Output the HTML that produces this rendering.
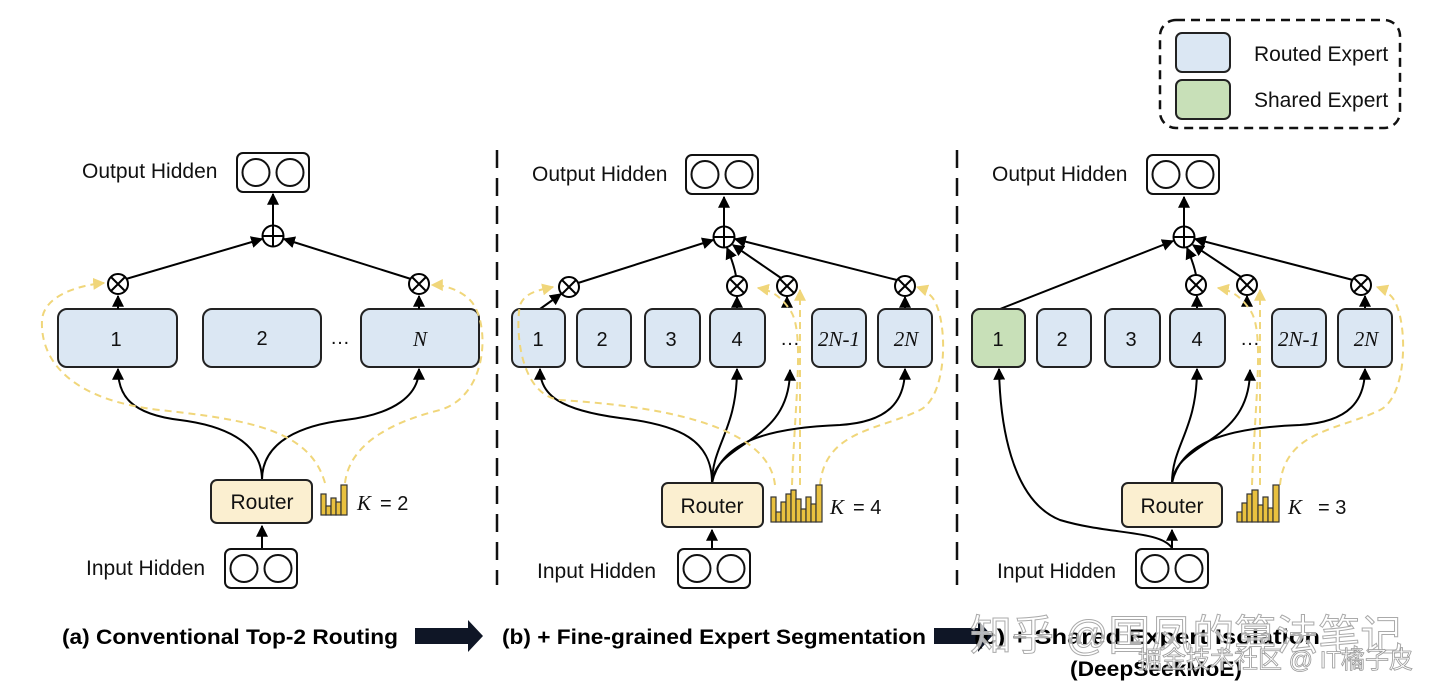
<!DOCTYPE html>
<html><head><meta charset="utf-8"><style>
html,body{margin:0;padding:0;background:#fff}
svg{display:block}
text{font-family:"Liberation Sans","DejaVu Sans",sans-serif}
.lbl{font-size:21px;fill:#111}
.num{font-size:20px;fill:#111}
.it{font-family:"Liberation Serif",serif;font-style:italic;font-size:21px;fill:#111}
.cap{font-size:21px;font-weight:bold;fill:#000}
.ex{fill:#dbe7f3;stroke:#222;stroke-width:2}
.rt{fill:#fbefd0;stroke:#222;stroke-width:2}
.bk{fill:none;stroke:#000;stroke-width:2}
.ds{fill:none;stroke:#f0d67a;stroke-width:2;stroke-dasharray:7 5}
.bar{fill:#e9c13f;stroke:#333;stroke-width:1.2}
</style></head><body>
<svg width="1440" height="692" viewBox="0 0 1440 692" xmlns="http://www.w3.org/2000/svg">
<defs>
<marker id="a" viewBox="0 0 10 10" refX="9" refY="5" markerWidth="6" markerHeight="6" orient="auto"><path d="M0,0L10,5L0,10z" fill="#000"/></marker>
<marker id="y" viewBox="0 0 10 10" refX="9" refY="5" markerWidth="6" markerHeight="6" orient="auto"><path d="M0,0L10,5L0,10z" fill="#f0d67a"/></marker>
<g id="hid"><rect x="0" y="0" width="72" height="39" rx="6" fill="#fff" stroke="#111" stroke-width="2"/><circle cx="19" cy="19.5" r="13.5" fill="#fff" stroke="#111" stroke-width="2"/><circle cx="53" cy="19.5" r="13.5" fill="#fff" stroke="#111" stroke-width="2"/></g>
<g id="plus"><circle r="10.5" fill="#fff" stroke="#000" stroke-width="2"/><path d="M-10.5,0H10.5M0,-10.5V10.5" stroke="#000" stroke-width="2"/></g>
<g id="mul"><circle r="10" fill="#fff" stroke="#000" stroke-width="2"/><path d="M-7,-7L7,7M7,-7L-7,7" stroke="#000" stroke-width="2"/></g>
</defs>

<!-- Legend -->
<rect x="1160" y="20" width="240" height="108" rx="16" fill="none" stroke="#111" stroke-width="2.5" stroke-dasharray="9 6"/>
<rect x="1176" y="33" width="54" height="39" rx="6" class="ex"/>
<rect x="1176" y="80" width="54" height="39" rx="6" fill="#c8e0b8" stroke="#222" stroke-width="2"/>
<text x="1254" y="61" class="lbl">Routed Expert</text>
<text x="1254" y="107" class="lbl">Shared Expert</text>

<!-- dividers -->
<line x1="497" y1="150" x2="497" y2="585" stroke="#111" stroke-width="2.5" stroke-dasharray="18 10"/>
<line x1="957" y1="150" x2="957" y2="585" stroke="#111" stroke-width="2.5" stroke-dasharray="18 10"/>

<!-- ===== Panel A ===== -->
<text x="82" y="178" class="lbl">Output Hidden</text>
<use href="#hid" x="237" y="153"/>
<line x1="273" y1="226" x2="273" y2="194" class="bk" marker-end="url(#a)"/>
<path d="M126,279L262,239" class="bk" marker-end="url(#a)"/>
<path d="M411,279L284,239" class="bk" marker-end="url(#a)"/>
<rect x="58" y="309" width="119" height="58" rx="9" class="ex"/>
<rect x="203" y="309" width="118" height="58" rx="9" class="ex"/>
<rect x="361" y="309" width="118" height="58" rx="9" class="ex"/>
<text x="116" y="346" class="num" text-anchor="middle">1</text>
<text x="262" y="345" class="num" text-anchor="middle">2</text>
<text x="340" y="344" class="num" text-anchor="middle">…</text>
<text x="420" y="346" class="it" text-anchor="middle">N</text>
<line x1="118" y1="309" x2="118" y2="296" class="bk" marker-end="url(#a)"/>
<line x1="419" y1="309" x2="419" y2="296" class="bk" marker-end="url(#a)"/>
<path d="M262,480C262,440 220,425 180,420C130,414 118,395 118,369" class="bk" marker-end="url(#a)"/>
<path d="M262,480C262,440 304,425 345,420C395,414 419,395 419,369" class="bk" marker-end="url(#a)"/>
<path d="M325,483C310,430 250,420 160,410C70,400 40,360 42,320C44,295 80,285 104,283" class="ds" marker-end="url(#y)"/>
<path d="M345,483C350,440 400,420 440,410C490,395 490,320 470,300C460,290 445,285 432,285" class="ds" marker-end="url(#y)"/>
<use href="#mul" x="118" y="284"/><use href="#mul" x="419" y="284"/>
<use href="#plus" x="273" y="236"/>
<rect x="211" y="480" width="101" height="43" rx="6" class="rt"/>
<text x="262" y="509" class="lbl" text-anchor="middle">Router</text>
<g transform="translate(321,485)"><rect x="0" y="9" width="5" height="21" class="bar"/><rect x="5" y="21" width="5" height="9" class="bar"/><rect x="10" y="13" width="5" height="17" class="bar"/><rect x="15" y="17" width="5" height="13" class="bar"/><rect x="20" y="0" width="6" height="30" class="bar"/></g>
<text x="357" y="510" class="it">K</text><text x="380" y="510" class="num" font-size="21">= 2</text>
<line x1="262" y1="548" x2="262" y2="526" class="bk" marker-end="url(#a)"/>
<text x="86" y="575" class="lbl">Input Hidden</text>
<use href="#hid" x="225" y="549"/>

<!-- ===== Panel B ===== -->
<text x="532" y="181" class="lbl">Output Hidden</text>
<use href="#hid" x="686" y="155"/>
<line x1="724" y1="227" x2="724" y2="197" class="bk" marker-end="url(#a)"/>
<path d="M578,283L713,240" class="bk" marker-end="url(#a)"/>
<path d="M736,276C734,265 730,255 727,248" class="bk" marker-end="url(#a)"/>
<path d="M781,278L733,245" class="bk" marker-end="url(#a)"/>
<path d="M897,280L735,239" class="bk" marker-end="url(#a)"/>
<path d="M540,309L561,294" class="bk" marker-end="url(#a)"/>
<line x1="737" y1="309" x2="737" y2="297" class="bk" marker-end="url(#a)"/>
<line x1="787" y1="306" x2="787" y2="297" class="bk" marker-end="url(#a)"/>
<line x1="905" y1="309" x2="905" y2="297" class="bk" marker-end="url(#a)"/>
<g id="bexp">
<rect x="512" y="309" width="53" height="58" rx="8" class="ex"/>
<rect x="577" y="309" width="54" height="58" rx="8" class="ex"/>
<rect x="645" y="309" width="55" height="58" rx="8" class="ex"/>
<rect x="710" y="309" width="55" height="58" rx="8" class="ex"/>
<rect x="812" y="309" width="54" height="58" rx="8" class="ex"/>
<rect x="878" y="309" width="54" height="58" rx="8" class="ex"/>
<text x="602" y="346" class="num" text-anchor="middle">2</text>
<text x="671" y="346" class="num" text-anchor="middle">3</text>
<text x="737" y="346" class="num" text-anchor="middle">4</text>
<text x="790" y="345" class="num" text-anchor="middle">…</text>
<text x="839" y="346" class="it" text-anchor="middle" font-size="20">2N-1</text>
<text x="906" y="346" class="it" text-anchor="middle">2N</text>
</g>
<text x="538" y="346" class="num" text-anchor="middle">1</text>
<path d="M712,483C712,440 680,425 620,418C560,410 540,395 540,369" class="bk" marker-end="url(#a)"/>
<path d="M712,483C712,445 737,430 737,369" class="bk" marker-end="url(#a)"/>
<path d="M712,483C716,440 790,445 790,370" class="bk" marker-end="url(#a)"/>
<path d="M712,483C720,445 760,428 840,425C890,422 905,400 905,369" class="bk" marker-end="url(#a)"/>
<path d="M775,485C768,420 640,405 560,400C520,395 515,330 520,305C525,292 540,290 553,287" class="ds" marker-end="url(#y)"/>
<path d="M792,485C795,400 805,330 790,310C780,295 770,290 758,288" class="ds" marker-end="url(#y)"/>
<path d="M800,485L800,290" class="ds" marker-end="url(#y)"/>
<path d="M820,485C825,430 880,430 920,410C950,395 948,310 930,295C925,290 920,288 917,287" class="ds" marker-end="url(#y)"/>
<use href="#mul" x="569" y="287"/><use href="#mul" x="737" y="286"/><use href="#mul" x="787" y="286"/><use href="#mul" x="905" y="286"/>
<use href="#plus" x="724" y="237"/>
<rect x="662" y="483" width="101" height="44" rx="6" class="rt"/>
<text x="712" y="513" class="lbl" text-anchor="middle">Router</text>
<g transform="translate(771,485)"><rect x="0" y="12" width="5" height="25" class="bar"/><rect x="5" y="27" width="5" height="10" class="bar"/><rect x="10" y="17" width="5" height="20" class="bar"/><rect x="15" y="9" width="5" height="28" class="bar"/><rect x="20" y="5" width="5" height="32" class="bar"/><rect x="25" y="14" width="5" height="23" class="bar"/><rect x="30" y="24" width="5" height="13" class="bar"/><rect x="35" y="12" width="5" height="25" class="bar"/><rect x="40" y="19" width="5" height="18" class="bar"/><rect x="45" y="0" width="6" height="37" class="bar"/></g>
<text x="830" y="514" class="it">K</text><text x="853" y="514" class="num" font-size="21">= 4</text>
<line x1="712" y1="548" x2="712" y2="530" class="bk" marker-end="url(#a)"/>
<text x="537" y="578" class="lbl">Input Hidden</text>
<use href="#hid" x="678" y="549"/>

<!-- ===== Panel C ===== -->
<text x="992" y="181" class="lbl">Output Hidden</text>
<use href="#hid" x="1147" y="155"/>
<line x1="1184" y1="227" x2="1184" y2="197" class="bk" marker-end="url(#a)"/>
<path d="M1000,309L1173,241" class="bk" marker-end="url(#a)"/>
<path d="M1196,275C1194,265 1190,255 1187,248" class="bk" marker-end="url(#a)"/>
<path d="M1241,277L1193,245" class="bk" marker-end="url(#a)"/>
<path d="M1353,280L1195,239" class="bk" marker-end="url(#a)"/>
<line x1="1197" y1="309" x2="1197" y2="296" class="bk" marker-end="url(#a)"/>
<line x1="1247" y1="306" x2="1247" y2="296" class="bk" marker-end="url(#a)"/>
<line x1="1365" y1="309" x2="1365" y2="296" class="bk" marker-end="url(#a)"/>
<use href="#bexp" x="460" y="0"/>
<rect x="972" y="309" width="53" height="58" rx="8" fill="#c8e0b8" stroke="#222" stroke-width="2"/>
<text x="998" y="346" class="num" text-anchor="middle">1</text>
<path d="M1172,548C1160,530 1110,535 1060,520C1010,500 1000,420 999,369" class="bk" marker-end="url(#a)"/>
<path d="M1172,483C1172,445 1197,430 1197,369" class="bk" marker-end="url(#a)"/>
<path d="M1172,483C1176,440 1250,445 1250,370" class="bk" marker-end="url(#a)"/>
<path d="M1172,483C1180,445 1220,428 1300,425C1350,422 1365,400 1365,369" class="bk" marker-end="url(#a)"/>
<path d="M1252,485C1255,400 1265,330 1250,310C1240,295 1230,290 1218,288" class="ds" marker-end="url(#y)"/>
<path d="M1260,485L1260,290" class="ds" marker-end="url(#y)"/>
<path d="M1280,485C1285,430 1340,430 1380,410C1410,395 1408,310 1390,295C1385,290 1380,288 1377,287" class="ds" marker-end="url(#y)"/>
<use href="#mul" x="1196" y="285"/><use href="#mul" x="1247" y="285"/><use href="#mul" x="1361" y="285"/>
<use href="#plus" x="1184" y="237"/>
<rect x="1122" y="483" width="100" height="44" rx="6" class="rt"/>
<text x="1172" y="513" class="lbl" text-anchor="middle">Router</text>
<g transform="translate(1237,485)"><rect x="0" y="27" width="5" height="10" class="bar"/><rect x="5" y="18" width="5" height="19" class="bar"/><rect x="10" y="9" width="5" height="28" class="bar"/><rect x="15" y="5" width="6" height="32" class="bar"/><rect x="21" y="20" width="5" height="17" class="bar"/><rect x="26" y="12" width="5" height="25" class="bar"/><rect x="31" y="23" width="5" height="14" class="bar"/><rect x="36" y="0" width="6" height="37" class="bar"/></g>
<text x="1288" y="514" class="it">K</text><text x="1318" y="514" class="num" font-size="21">= 3</text>
<line x1="1172" y1="548" x2="1172" y2="530" class="bk" marker-end="url(#a)"/>
<text x="997" y="578" class="lbl">Input Hidden</text>
<use href="#hid" x="1136" y="549"/>

<!-- captions -->
<text x="62" y="644" class="cap" textLength="336" lengthAdjust="spacingAndGlyphs">(a) Conventional Top-2 Routing</text>
<path d="M415,628H468V620L483,636L468,652V644H415z" fill="#0f1626"/>
<text x="502" y="644" class="cap" textLength="424" lengthAdjust="spacingAndGlyphs">(b) + Fine-grained Expert Segmentation</text>
<path d="M934,628H978V620L992,636L978,652V644H934z" fill="#0f1626"/>
<text x="974" y="644" class="cap" textLength="346" lengthAdjust="spacingAndGlyphs">(c) + Shared Expert Isolation</text>
<text x="1070" y="676" class="cap" textLength="172" lengthAdjust="spacingAndGlyphs">(DeepSeekMoE)</text>
<!-- watermark -->
<text x="970" y="650" font-family="'Liberation Sans','Noto Sans CJK SC',sans-serif" font-size="42" fill="#fff" fill-opacity="0.7" stroke="#aaa" stroke-width="1">知乎 @国凤的算法笔记</text>
<text x="1138" y="668" font-family="'Liberation Sans','Noto Sans CJK SC',sans-serif" font-size="24" fill="#fff" fill-opacity="0.8" stroke="#999" stroke-width="0.8">掘金技术社区 @ IT橘子皮</text>
</svg>
</body></html>
